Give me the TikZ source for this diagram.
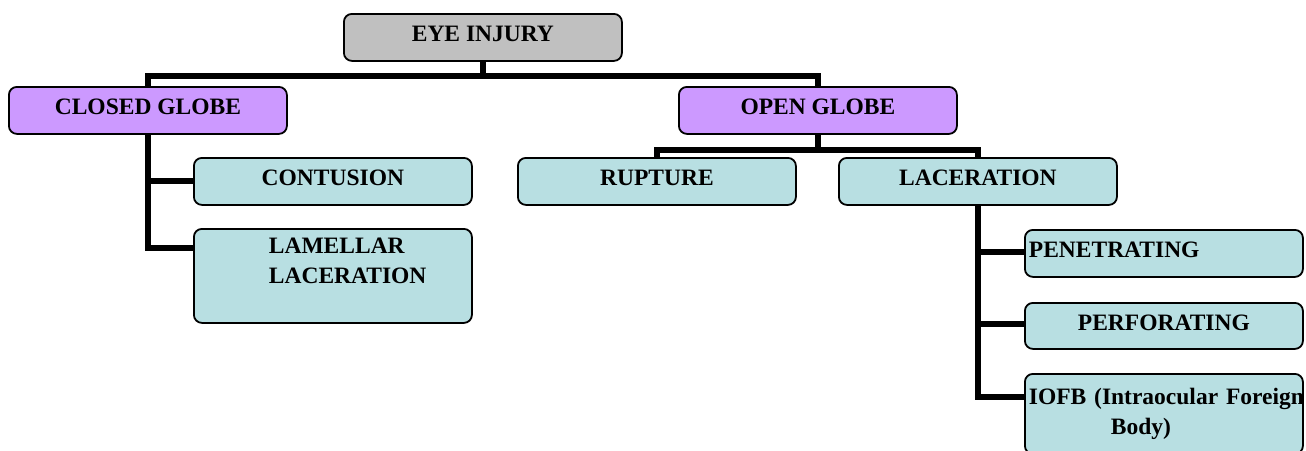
\documentclass[tikz,border=0pt]{standalone}
\usepackage{fontspec}
\setmainfont{Liberation Serif}
\usetikzlibrary{positioning}

\definecolor{injgray}{HTML}{C0C0C0}
\definecolor{globe}{HTML}{CC99FF}
\definecolor{kind}{HTML}{B8DFE2}

\tikzset{
    box/.style={draw, line width=1.8pt, rounded corners=8pt, anchor=north west,
        minimum width=278pt, minimum height=47pt, inner sep=2pt,
        font=\fontsize{23.5}{30}\selectfont\bfseries},
    single/.style={text depth=7pt},
    topbox/.style={box, single, fill=injgray},
    globebox/.style={box, single, fill=globe},
    kindbox/.style={box, single, fill=kind},
    leftbox/.style={box, fill=kind, text width=270pt, align=left, inner xsep=4pt},
    link/.style={line width=6pt}
}

\begin{document}
\begin{tikzpicture}[x=1pt, y=-1pt]
                \useasboundingbox (0,0) rectangle (1306,450);

                % top level
                \node[topbox] (eye) at (343,13) {EYE INJURY};
                \node[globebox] (closed) at (8,86) {CLOSED GLOBE};
                \node[globebox] (open) at (678,86) {OPEN GLOBE};

                % closed globe
                \node[kindbox] (contusion) at (193,157) {CONTUSION};
                \node[leftbox, minimum height=94pt] (lamellar) at (193,228)
                    {\hspace*{71pt}LAMELLAR\\\hspace*{71pt}LACERATION\\\mbox{}};

                % open globe
                \node[kindbox] (rupture) at (517,157) {RUPTURE};
                \node[kindbox] (laceration) at (838,157) {LACERATION};
                \node[leftbox, single] (penetrating) at (1024,229) {PENETRATING};
                \node[kindbox, minimum height=46pt] (perforating) at (1024,302) {PERFORATING};
                \node[leftbox, minimum height=80pt] (iofb) at (1024,373)
                    {\mbox{IOFB (Intraocular Foreign}\\\hspace*{82pt}Body)};

                % links
                \draw[link] (eye.south) -- ++(0,14) -| (closed.north);
                \draw[link] (eye.south) -- ++(0,14) -| (open.north);
                \draw[link] (closed.south) |- (contusion.west);
                \draw[link] (closed.south) |- ([yshift=-20pt]lamellar.north west);
                \draw[link] (open.south) -- ++(0,15) -| (rupture.north);
                \draw[link] (open.south) -- ++(0,15) -| (laceration.north);
                \draw[link] (laceration.south) |- ([yshift=-23pt]penetrating.north west);
                \draw[link] (laceration.south) |- ([yshift=-22pt]perforating.north west);
                \draw[link] (laceration.south) |- ([yshift=-24pt]iofb.north west);
            \end{tikzpicture}
\end{document}
